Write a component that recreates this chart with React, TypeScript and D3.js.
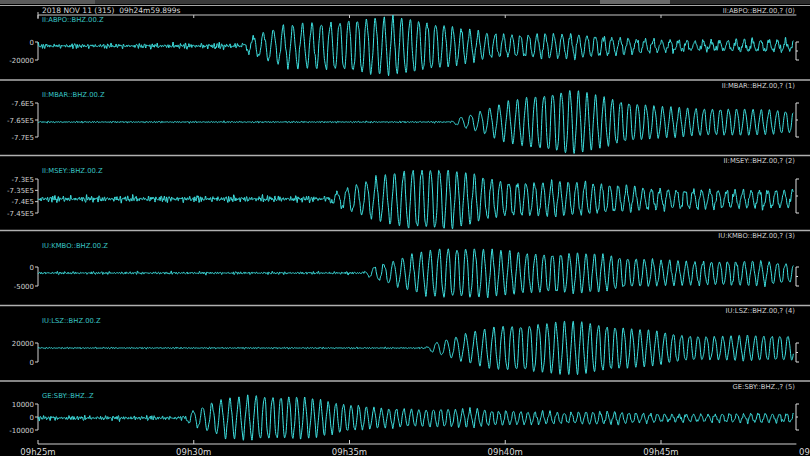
import React from 'react';
import * as d3 from 'd3';

// ---------- data ----------
const title = '2018 NOV 11 (315)  09h24m59.899s';
const leftLabels = ['II:ABPO::BHZ.00.Z', 'II:MBAR::BHZ.00.Z', 'II:MSEY::BHZ.00.Z', 'IU:KMBO::BHZ.00.Z', 'IU:LSZ::BHZ.00.Z', 'GE:SBY::BHZ..Z'];
const rightLabels = ['II:ABPO::BHZ.00,? (0)', 'II:MBAR::BHZ.00,? (1)', 'II:MSEY::BHZ.00,? (2)', 'IU:KMBO::BHZ.00,? (3)', 'IU:LSZ::BHZ.00,? (4)', 'GE:SBY::BHZ.,? (5)'];

// y tick values & labels per trace
const yTicks1 = [-20000, 0];
const yTicks2 = [-770000, -765000, -760000];
const yTicks3 = [-745000, -740000, -735000, -730000];
const yTicks4 = [-5000, 0];
const yTicks5 = [0, 20000];
const yTicks6 = [-10000, 0, 10000];
const yTickLabels1 = ['-20000', '0'];
const yTickLabels2 = ['-7.7E5', '-7.65E5', '-7.6E5'];
const yTickLabels3 = ['-7.45E5', '-7.4E5', '-7.35E5', '-7.3E5'];
const yTickLabels4 = ['-5000', '0'];
const yTickLabels5 = ['0', '20000'];
const yTickLabels6 = ['-10000', '0', '10000'];

// trace mean level (counts)
const baselines = [-4400, -765600, -738800, -1580, 14700, -770];
// surface-wave arrival (minutes after 09h25m)
const arrivals = [6.5, 13.2, 9.2, 10.4, 12.4, 4.6];
// dominant period at arrival / later (minutes)
const periodsStart = [0.34, 0.32, 0.33, 0.32, 0.33, 0.32];
const periodsEnd = [0.265, 0.26, 0.265, 0.265, 0.26, 0.23];

// surface-wave envelope, counts, one value per minute 0..24
const wave1 = [0, 0, 0, 0, 0, 0, 0, 11000, 24500, 30000, 33000, 31000, 28000, 23500, 18000, 14500, 13500, 12000, 11000, 9000, 6500, 5500, 5500, 5500, 5500];
const wave2 = [0, 0, 0, 0, 0, 0, 0, 0, 0, 0, 0, 0, 0, 0, 2900, 6500, 8200, 9100, 7350, 6500, 5300, 4400, 3800, 3500, 3500];
const wave3 = [0, 0, 0, 0, 0, 0, 0, 0, 0, 0, 6200, 9700, 12300, 13200, 11500, 9300, 7900, 7000, 6200, 5700, 4900, 4400, 4000, 3500, 3500];
const wave4 = [0, 0, 0, 0, 0, 0, 0, 0, 0, 0, 0, 2100, 4500, 6600, 7400, 6600, 5500, 5000, 4700, 4200, 3700, 3400, 3200, 2900, 2600];
const wave5 = [0, 0, 0, 0, 0, 0, 0, 0, 0, 0, 0, 0, 0, 7400, 16800, 27400, 30500, 28400, 24200, 20000, 17900, 15800, 13700, 12600, 12600];
const wave6 = [0, 0, 0, 0, 0, 6200, 16900, 20000, 16900, 13100, 10000, 8500, 7700, 6900, 6200, 5400, 5400, 4600, 4600, 3800, 3100, 3100, 3100, 3100, 3100];

// background noise envelope, counts, one value per minute 0..24
const noise1 = [3300, 3300, 3300, 3300, 3900, 3900, 4800, 3300, 3300, 3300, 3300, 3300, 3300, 3300, 3300, 3300, 3300, 3300, 3600, 4000, 4400, 4400, 4600, 4600, 4600];
const noise2 = [300, 300, 300, 300, 300, 300, 300, 300, 300, 300, 300, 300, 300, 300, 300, 300, 300, 300, 300, 300, 300, 300, 300, 300, 300];
const noise3 = [1800, 1800, 1800, 1800, 1800, 1800, 1800, 1800, 1800, 1800, 1300, 1300, 1300, 1300, 1300, 1300, 1300, 1300, 1400, 1500, 1600, 1700, 1800, 1800, 1800];
const noise4 = [450, 450, 450, 450, 450, 450, 450, 450, 450, 450, 450, 450, 450, 450, 450, 450, 450, 450, 450, 450, 500, 550, 600, 600, 600];
const noise5 = [1000, 1000, 1000, 1000, 1000, 1000, 1000, 1000, 1000, 1000, 1000, 1000, 1000, 1000, 1000, 1000, 1000, 1000, 1000, 1000, 1000, 1000, 1000, 1000, 1000];
const noise6 = [2300, 2300, 2300, 2300, 2300, 1500, 1500, 1500, 1500, 1500, 1500, 1500, 1500, 1500, 1500, 1500, 1500, 1500, 1500, 1600, 1700, 1800, 1800, 1800, 1800];

const waves = [wave1, wave2, wave3, wave4, wave5, wave6];
const noises = [noise1, noise2, noise3, noise4, noise5, noise6];
const yTicks = [yTicks1, yTicks2, yTicks3, yTicks4, yTicks5, yTicks6];
const yTickLabels = [yTickLabels1, yTickLabels2, yTickLabels3, yTickLabels4, yTickLabels5, yTickLabels6];

const startTime = Date.UTC(2018, 10, 11, 9, 25, 0);
const endTime = Date.UTC(2018, 10, 11, 9, 50, 0);
const traceMinutes = 24.25;

// ---------- layout ----------
const W = 810;
const H = 456;
const X0 = 38;
const PX_PER_5MIN = 155.75;
const separators = [80, 155.5, 230.5, 305.5, 381];
const panelTops = [15, 80, 155.5, 230.5, 305.5, 381];
const axisPx: [number, number][] = [[60, 42], [137, 103], [213, 179], [286, 267], [362, 343], [430, 404]];
const AXIS_BOTTOM = 444;
const RIGHT_X = 796;
const FONT = 'DejaVu Sans, Verdana, sans-serif';
const TRACE = '#3fe3e3';

function interp(arr: number[], t: number) {
  const i = Math.max(0, Math.min(arr.length - 2, Math.floor(t)));
  const f = Math.max(0, Math.min(1, t - i));
  return arr[i] * (1 - f) + arr[i + 1] * f;
}

function noiseShape(t: number, s: number) {
  const TAU = Math.PI * 2;
  const m = 0.65 + 0.35 * Math.sin(TAU * t / 0.71 + s) * Math.sin(TAU * t / 1.9 + 2 * s);
  const v =
    0.5 * Math.sin(TAU * t / 0.083 + s) +
    0.4 * Math.sin(TAU * t / 0.057 + 1.7 * s) +
    0.35 * Math.sin(TAU * t / 0.131 + 2.3 * s) +
    0.25 * Math.sin(TAU * t / 0.039 + 0.6 * s) +
    0.2 * Math.sin(TAU * t / 0.29 + 3.1 * s);
  return (m * v) / 1.1;
}

function buildTrace(i: number): [number, number][] {
  const pts: [number, number][] = [];
  const dt = 0.008;
  let phase = 0;
  const s = i * 1.37 + 0.5;
  for (let k = 0; k * dt <= traceMinutes; k++) {
    const t = k * dt;
    let w = 0;
    if (t >= arrivals[i]) {
      const per = periodsEnd[i] + (periodsStart[i] - periodsEnd[i]) * Math.exp(-(t - arrivals[i]) / 3);
      phase += (2 * Math.PI * dt) / per;
      const on = Math.min(1, (t - arrivals[i]) / 0.3);
      w = on * (0.92 * Math.sin(phase) + 0.1 * Math.sin(1.05 * phase + s) + 0.08 * Math.sin(2.9 * phase + 0.4));
    }
    const env = interp(waves[i], t);
    const nz = interp(noises[i], t);
    const v = baselines[i] + env * w + nz * noiseShape(t, s);
    pts.push([t, v]);
  }
  return pts;
}

export default function App() {
  const x = d3.scaleUtc().domain([new Date(startTime), new Date(endTime)]).range([X0, X0 + PX_PER_5MIN * 5]);
  const xm = (t: number) => x(new Date(startTime + t * 60000));
  const ticks = x.ticks(d3.utcMinute.every(5) as any);
  const fmt = d3.utcFormat('%Hh%Mm');
  const axisEnd = xm(traceMinutes) + 3;

  return (
    <svg width={W} height={H} style={{ position: 'absolute', left: 0, top: 0, background: '#000' }}>
      <rect x={0} y={0} width={W} height={H} fill="#000" />
      {/* top strip */}
      <rect x={0} y={0} width={95} height={4} fill="#5a5a5a" />
      <rect x={95} y={0} width={315} height={4} fill="#3a3a3a" />
      <rect x={410} y={0} width={190} height={4} fill="#2a2a2a" />
      <rect x={600} y={0} width={70} height={4} fill="#6a6a6a" />
      <rect x={670} y={0} width={140} height={4} fill="#2e2e2e" />
      <line x1={0} x2={W} y1={5.5} y2={5.5} stroke="#a8a8a8" strokeWidth={1.2} />

      {/* title and top time axis */}
      <text x={42} y={12.5} fill="#d8d8d8" fontSize={7.5} fontFamily={FONT} style={{ whiteSpace: 'pre' }}>{title}</text>
      <line x1={X0} x2={axisEnd} y1={15} y2={15} stroke="#c8c8c8" strokeWidth={1} />
      <line x1={X0} x2={X0} y1={12} y2={19} stroke="#c8c8c8" strokeWidth={1} />
      {ticks.map((d, k) => (
        <line key={'tt' + k} x1={x(d)} x2={x(d)} y1={15} y2={18} stroke="#c8c8c8" strokeWidth={1} />
      ))}

      {/* separators */}
      {separators.map((y, k) => (
        <line key={'sep' + k} x1={0} x2={W} y1={y} y2={y} stroke="#b0b0b0" strokeWidth={1.6} />
      ))}

      {/* panels */}
      {waves.map((_, i) => {
        const tv = yTicks[i];
        const [pb, pt] = axisPx[i];
        const y = d3.scaleLinear().domain([tv[0], tv[tv.length - 1]]).range([pb, pt]);
        const line = d3.line<[number, number]>().x(d => xm(d[0])).y(d => y(d[1]));
        const data = buildTrace(i);
        const labelY = i === 0 ? 22 : panelTops[i] + 17;
        const rightY = i === 0 ? 12.5 : panelTops[i] + 7.5;
        const mid = (pb + pt) / 2;
        return (
          <g key={'p' + i}>
            <text x={42} y={labelY} fill="#38c4c4" fontSize={6.8} fontFamily={FONT}>{leftLabels[i]}</text>
            <text x={795} y={rightY} fill="#cfcfcf" fontSize={6.8} fontFamily={FONT} textAnchor="end">{rightLabels[i]}</text>
            {/* left axis */}
            <line x1={X0} x2={X0} y1={pt} y2={pb} stroke="#cfcfcf" strokeWidth={1} />
            {tv.map((v, k) => (
              <g key={'yt' + k}>
                <line x1={X0 - 3} x2={X0} y1={y(v)} y2={y(v)} stroke="#cfcfcf" strokeWidth={1} />
                <text x={X0 - 4} y={y(v) + 2.5} fill="#d0d0d0" fontSize={7} fontFamily={FONT} textAnchor="end">{yTickLabels[i][k]}</text>
              </g>
            ))}
            {/* right bracket */}
            <line x1={RIGHT_X} x2={RIGHT_X} y1={pt} y2={pb} stroke="#dcdcdc" strokeWidth={1} />
            <line x1={RIGHT_X} x2={RIGHT_X + 3} y1={pt} y2={pt} stroke="#dcdcdc" strokeWidth={1} />
            <line x1={RIGHT_X} x2={RIGHT_X + 3} y1={pb} y2={pb} stroke="#dcdcdc" strokeWidth={1} />
            <line x1={RIGHT_X} x2={RIGHT_X + 2} y1={mid} y2={mid} stroke="#dcdcdc" strokeWidth={1} />
            {/* trace */}
            <path d={line(data) || ''} fill="none" stroke={TRACE} strokeWidth={1} strokeLinejoin="round" />
          </g>
        );
      })}

      {/* bottom time axis */}
      <line x1={X0} x2={axisEnd} y1={AXIS_BOTTOM} y2={AXIS_BOTTOM} stroke="#d0d0d0" strokeWidth={1.2} />
      {ticks.map((d, k) => (
        <g key={'bt' + k}>
          <line x1={x(d)} x2={x(d)} y1={AXIS_BOTTOM - 4} y2={AXIS_BOTTOM} stroke="#d0d0d0" strokeWidth={1} />
          <text x={x(d)} y={455} fill="#d8d8d8" fontSize={8.5} fontFamily={FONT} textAnchor="middle">{fmt(d)}</text>
        </g>
      ))}
    </svg>
  );
}
